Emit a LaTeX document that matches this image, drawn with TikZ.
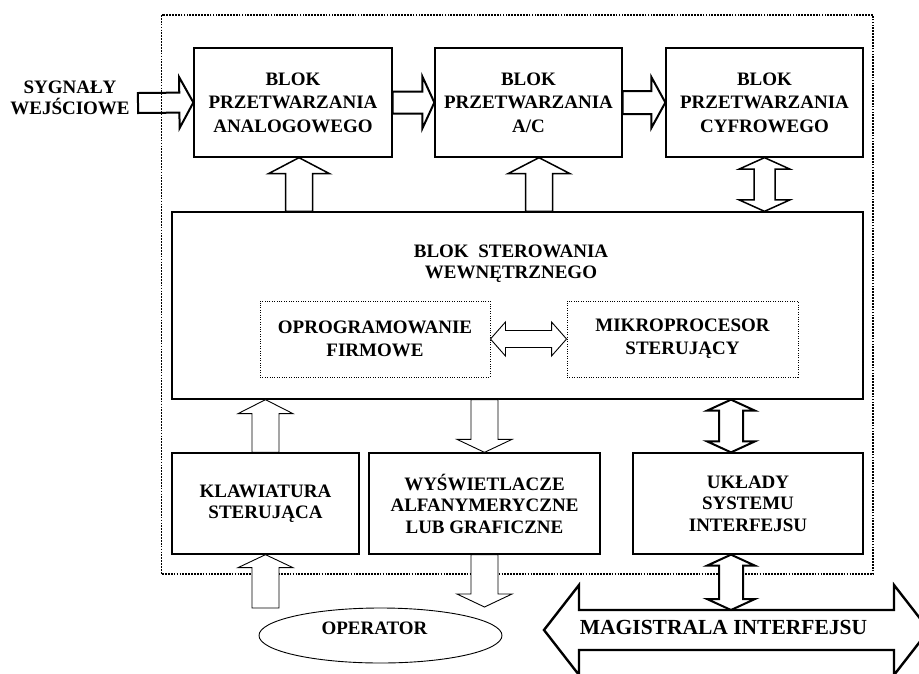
\documentclass[tikz,border=0pt]{standalone}
\usepackage{fontspec}
\setmainfont{Liberation Serif}
\usetikzlibrary{calc,shapes.geometric}

% fat arrow: [style]{tail}{tip}{half shaft}{half head}{head length}
\newcommand{\fatarrow}[6][]{%
\coordinate (fa) at #2; \coordinate (fb) at #3;
\coordinate (fc) at ($(fb)!#6!(fa)$);
\draw[#1] ($(fa)!#4!90:(fb)$) -- ($(fc)!#4!90:(fb)$) -- ($(fc)!#5!90:(fb)$) -- (fb)
-- ($(fc)!#5!-90:(fb)$) -- ($(fc)!#4!-90:(fb)$) -- ($(fa)!#4!-90:(fb)$) -- cycle;}
\newcommand{\fatdblarrow}[6][]{%
\coordinate (fa) at #2; \coordinate (fb) at #3;
\coordinate (fc) at ($(fa)!#6!(fb)$); \coordinate (fd) at ($(fb)!#6!(fa)$);
\draw[#1] (fa) -- ($(fc)!#5!90:(fb)$) -- ($(fc)!#4!90:(fb)$) -- ($(fd)!#4!90:(fb)$)
-- ($(fd)!#5!90:(fb)$) -- (fb) -- ($(fd)!#5!-90:(fb)$) -- ($(fd)!#4!-90:(fb)$)
-- ($(fc)!#4!-90:(fb)$) -- ($(fc)!#5!-90:(fb)$) -- cycle;}

\begin{document}
\begin{tikzpicture}[x=1pt,y=-1pt,
blok/.style={draw,line width=1.3pt,align=center,inner sep=0pt,
font=\bfseries\fontsize{19}{23.5}\selectfont},
dolny/.style={blok,font=\bfseries\fontsize{19}{21.5}\selectfont},
wewn/.style={draw,dash pattern=on 1pt off 1.4pt,line width=0.9pt,align=center,
inner sep=0pt,font=\bfseries\fontsize{19}{23}\selectfont},
napis/.style={align=center,inner sep=0pt,font=\bfseries\fontsize{19}{21}\selectfont},
grube/.style={draw,fill=white,line width=2pt},
srednie/.style={draw,fill=white,line width=1.5pt},
cienkie/.style={draw,fill=white,line width=0.9pt}]
\useasboundingbox (0,0) rectangle (919,673);
\fill[white] (0,0) rectangle (919,673);
\draw[dash pattern=on 1.7pt off 1.2pt,line width=1.8pt] (161.5,15) rectangle (873,574);

\node[blok,minimum width=198pt,minimum height=109pt] (pa) at (293,102.5) {BLOK\\PRZETWARZANIA\\ANALOGOWEGO};
\node[blok,minimum width=187pt,minimum height=109pt] (pb) at (528.5,102.5) {BLOK\\PRZETWARZANIA\\A/C};
\node[blok,minimum width=197pt,minimum height=109pt] (pc) at (764.5,102.5) {BLOK\\PRZETWARZANIA\\CYFROWEGO};
\node[blok,minimum width=691pt,minimum height=187pt] (ster) at (517.5,305.5) {};
\node[napis] (stertxt) at (511,264) {BLOK\ \ STEROWANIA\\WEWNĘTRZNEGO};
\node[wewn,minimum width=230pt,minimum height=76pt] (firm) at (375,339) {OPROGRAMOWANIE\\FIRMOWE};
\node[wewn,minimum width=231pt,minimum height=76pt] (mikro) at (682.5,339) {MIKROPROCESOR\\STERUJĄCY};
\node[dolny,minimum width=187pt,minimum height=101pt] (klaw) at (265.5,503.5) {KLAWIATURA\\STERUJĄCA};
\node[dolny,minimum width=231pt,minimum height=101pt] (wys) at (484.5,503.5) {WYŚWIETLACZE\\ALFANYMERYCZNE\\LUB GRAFICZNE};
\node[dolny,minimum width=230pt,minimum height=101pt] (ukl) at (748,503.5) {UKŁADY\\SYSTEMU\\INTERFEJSU};
\node[draw,ellipse,line width=0.9pt,minimum width=243pt,minimum height=55pt,inner sep=0pt] (op) at (380.5,635.5) {};
\node[napis] (optxt) at (374.5,628) {OPERATOR};
\node[napis] (syg) at (70,97.5) {SYGNAŁY\\WEJŚCIOWE};
\node[napis,font=\bfseries\fontsize{21.5}{24}\selectfont] (mag) at (723.5,627) {MAGISTRALA INTERFEJSU};

\coordinate (wej) at (138,103);
\coordinate (a1) at ($(pa.south)+(6,0)$);
\coordinate (b1) at ($(pb.south)+(10.5,0)$);
\coordinate (u1) at ($(ukl.north)+(-17,0)$);
\coordinate (u2) at ($(ukl.south)+(-17,0)$);
\coordinate (opk) at (265.5,608);
\coordinate (opw) at (484.5,607);
\coordinate (magL) at (544,630);
\coordinate (magR) at (929,630);
\coordinate (magtop) at ($(magL)+(0,-20)$);

\fatarrow[line width=2pt]{(wej)}{(pa.west)}{10pt}{25.5pt}{14pt}
\fatarrow[grube]{(pa.east)}{(pb.west)}{11pt}{26pt}{12pt}
\fatarrow[grube]{(pb.east)}{(pc.west)}{11.5pt}{25.5pt}{14pt}
\fatarrow[srednie]{(a1 |- ster.north)}{(a1)}{13.5pt}{30.5pt}{16pt}
\fatarrow[srednie]{(b1 |- ster.north)}{(b1)}{13.5pt}{31pt}{16pt}
\fatdblarrow[srednie]{(pc.south |- ster.north)}{(pc.south)}{10.5pt}{25.5pt}{11.5pt}
\fatdblarrow[cienkie]{(firm.east)}{(mikro.west)}{8.5pt}{17pt}{15pt}
\fatarrow[cienkie]{(klaw.north)}{(klaw.north |- ster.south)}{13.5pt}{27.5pt}{14pt}
\fatarrow[cienkie]{(opk)}{(klaw.south)}{13.5pt}{27.5pt}{13pt}
\fatarrow[cienkie]{(wys.north |- ster.south)}{(wys.north)}{13.5pt}{27.5pt}{13pt}
\fatarrow[cienkie]{(wys.south)}{(opw)}{13.5pt}{27.5pt}{13pt}
\fatdblarrow[grube]{(u1 |- ster.south)}{(u1)}{12pt}{24pt}{11pt}
\fatdblarrow[grube]{(u2)}{(u2 |- magtop)}{12pt}{24pt}{11pt}
\begin{scope}
\clip (0,0) rectangle (919,673);
\fatdblarrow[line width=2.4pt]{(magL)}{(magR)}{20pt}{45pt}{35pt}
\end{scope}
\end{tikzpicture}
\end{document}
